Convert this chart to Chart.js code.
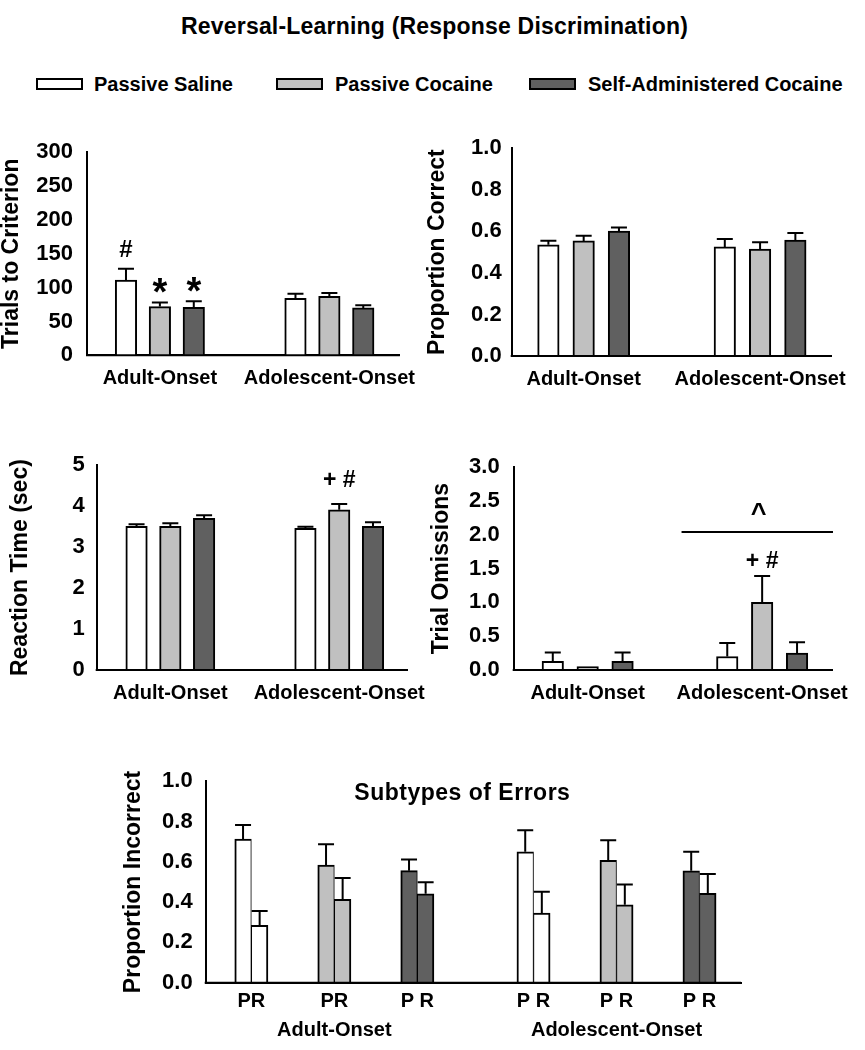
<!DOCTYPE html>
<html><head><meta charset="utf-8">
<script src="https://cdn.jsdelivr.net/npm/chart.js@4.4.1/dist/chart.umd.min.js"></script>
<style>
html,body{margin:0;padding:0;background:#fff;}
body{width:865px;height:1050px;position:relative;overflow:hidden;font-family:'Liberation Sans',Arial,sans-serif;font-weight:bold;color:#000;}
canvas{position:absolute;}
#title{position:absolute;left:0;width:869px;top:14.5px;text-align:center;font-size:23px;line-height:23px;letter-spacing:0.2px;white-space:nowrap;}
.lbox{position:absolute;top:78px;width:47px;height:12px;box-sizing:border-box;border:2px solid #000;}
.ltxt{position:absolute;top:74px;font-size:20px;line-height:20px;white-space:nowrap;}
</style></head><body>
<div id="title">Reversal-Learning (Response Discrimination)</div>
<div id="legend"></div>
<canvas id="c1" width="430" height="280" style="left:0px;top:125px"></canvas>
<canvas id="c2" width="440" height="280" style="left:425px;top:125px"></canvas>
<canvas id="c3" width="440" height="275" style="left:0px;top:440px"></canvas>
<canvas id="c4" width="440" height="275" style="left:425px;top:440px"></canvas>
<canvas id="c5" width="700" height="295" style="left:100px;top:755px"></canvas>
<script>
// ---------------- DATA ----------------
const groupLabels = ['Adult-Onset', 'Adolescent-Onset'];
const seriesNames = ['Passive Saline', 'Passive Cocaine', 'Self-Administered Cocaine'];

// Trials to criterion [Adult, Adolescent]
const trialsSaline = [111, 84];      const trialsSalineSem = [17, 7];
const trialsCocaine = [72, 87];      const trialsCocaineSem = [6, 5];
const trialsSelfAdmin = [71, 70];    const trialsSelfAdminSem = [9, 4];

// Proportion correct
const correctSaline = [0.535, 0.525];   const correctSalineSem = [0.02, 0.038];
const correctCocaine = [0.554, 0.514];  const correctCocaineSem = [0.025, 0.033];
const correctSelfAdmin = [0.601, 0.558];const correctSelfAdminSem = [0.017, 0.034];

// Reaction time (sec)
const rtSaline = [3.51, 3.46];     const rtSalineSem = [0.05, 0.04];
const rtCocaine = [3.51, 3.91];    const rtCocaineSem = [0.07, 0.14];
const rtSelfAdmin = [3.70, 3.51];  const rtSelfAdminSem = [0.08, 0.10];

// Trial omissions
const omitSaline = [0.13, 0.20];   const omitSalineSem = [0.13, 0.20];
const omitCocaine = [0.05, 1.00];  const omitCocaineSem = [0, 0.39];
const omitSelfAdmin = [0.13, 0.25];const omitSelfAdminSem = [0.13, 0.16];

// Subtypes of errors: P (perseverative) and R (regressive), [Adult, Adolescent]
const salineP = [0.713, 0.650];    const salinePSem = [0.070, 0.106];
const salineR = [0.285, 0.345];    const salineRSem = [0.071, 0.106];
const cocaineP = [0.584, 0.607];   const cocainePSem = [0.103, 0.100];
const cocaineR = [0.414, 0.387];   const cocaineRSem = [0.106, 0.100];
const selfAdminP = [0.556, 0.555]; const selfAdminPSem = [0.055, 0.095];
const selfAdminR = [0.441, 0.444]; const selfAdminRSem = [0.058, 0.096];
const pairLabels = ['PR', 'PR', 'P R', 'P R', 'P R', 'P R'];

// ---------------- STYLE ----------------
const FONT = "'Liberation Sans', Arial, sans-serif";
const fills = ['#ffffff', '#c0c0c0', '#606060'];
Chart.defaults.font.family = FONT;
Chart.defaults.font.weight = 'bold';
Chart.defaults.color = '#000';

// legend (HTML)
const legendBoxLeft = [36, 276, 529];
const legendTextLeft = [94, 335, 588];
const legend = document.getElementById('legend');
seriesNames.forEach((n, i) => {
  const b = document.createElement('div');
  b.className = 'lbox'; b.style.left = legendBoxLeft[i] + 'px'; b.style.background = fills[i];
  const t = document.createElement('div');
  t.className = 'ltxt'; t.style.left = legendTextLeft[i] + 'px'; t.textContent = n;
  legend.appendChild(b); legend.appendChild(t);
});

// error bars + baseline redraw
function errorBarPlugin(capW) {
  return {
    id: 'errorBars',
    afterDatasetsDraw(chart) {
      const ctx = chart.ctx, ys = chart.scales.y;
      ctx.save();
      ctx.strokeStyle = '#000'; ctx.lineWidth = 2; ctx.lineCap = 'butt';
      chart.data.datasets.forEach((ds, di) => {
        const meta = chart.getDatasetMeta(di);
        meta.data.forEach((bar, i) => {
          const e = ds.sem[i];
          if (!e) return;
          const top = ys.getPixelForValue(ds.data[i].y + e);
          ctx.beginPath();
          ctx.moveTo(bar.x, bar.y); ctx.lineTo(bar.x, top);
          ctx.moveTo(bar.x - capW / 2, top); ctx.lineTo(bar.x + capW / 2, top);
          ctx.stroke();
        });
      });
      const a = chart.chartArea;
      ctx.beginPath(); ctx.moveTo(a.left - 1, a.bottom); ctx.lineTo(a.right, a.bottom); ctx.stroke();
      ctx.restore();
    }
  };
}

// significance marks / titles
function marksPlugin(items) {
  return {
    id: 'marks',
    afterDatasetsDraw(chart) {
      const ctx = chart.ctx, xs = chart.scales.x, ys = chart.scales.y, a = chart.chartArea;
      ctx.save();
      ctx.fillStyle = '#000'; ctx.strokeStyle = '#000';
      ctx.textAlign = 'center'; ctx.textBaseline = 'alphabetic';
      items.forEach(m => {
        ctx.font = `bold ${m.size}px ${FONT}`;
        ctx.letterSpacing = m.spacing || '0px';
        if (m.type === 'bar') {
          const ds = chart.data.datasets[m.series];
          const bar = chart.getDatasetMeta(m.series).data[m.index];
          const top = ys.getPixelForValue(ds.data[m.index].y + ds.sem[m.index]);
          ctx.fillText(m.text, bar.x + (m.dx || 0), top + m.dy);
        } else if (m.type === 'bracket') {
          const y = ys.getPixelForValue(m.y);
          ctx.lineWidth = 2;
          ctx.beginPath(); ctx.moveTo(xs.getPixelForValue(m.x1), y); ctx.lineTo(xs.getPixelForValue(m.x2), y); ctx.stroke();
          ctx.fillText(m.text, xs.getPixelForValue(m.xText), y + m.dy);
        } else if (m.type === 'title') {
          ctx.fillText(m.text, (a.left + a.right) / 2 + m.dx, a.top + m.dy);
        }
      });
      ctx.restore();
    }
  };
}

function axisCommon(o) {
  return {
    x: {
      type: 'linear', min: o.xMin, max: o.xMax, offset: false,
      grid: { display: false, drawTicks: false },
      border: { display: true, color: '#000', width: 2 },
      afterBuildTicks: ax => { ax.ticks = o.tickValues.map(v => ({ value: v })); },
      ticks: { autoSkip: false, maxRotation: 0, minRotation: 0, padding: o.xPad,
               font: { size: 20, weight: 'bold', lineHeight: o.xLine || 1.2 },
               callback: (v, i) => o.tickLabels[i] },
      afterFit: ax => { ax.height = o.xAxisH; }
    },
    y: {
      min: 0, max: o.yMax,
      grid: { display: false, drawTicks: false },
      border: { display: true, color: '#000', width: 2 },
      ticks: { stepSize: o.yStep, padding: o.yPad, font: { size: 22, weight: 'bold' },
               callback: v => Number(v).toFixed(o.dec) },
      title: { display: true, text: o.yTitle, color: '#000',
               font: { size: 23, weight: 'bold', lineHeight: 1 },
               padding: { top: o.titlePad, bottom: 0 } },
      afterFit: ax => { ax.width = o.yAxisW; }
    }
  };
}

function groupPanel(id, o) {
  const datasets = o.series.map((ser, s) => ({
    label: seriesNames[s],
    data: ser[0].map((v, g) => ({ x: g * 5 + s, y: v })),
    sem: ser[1],
    backgroundColor: fills[s], borderColor: '#000', borderWidth: 2,
    borderSkipped: 'start', barThickness: 21.5, grouped: false
  }));
  return new Chart(document.getElementById(id), {
    type: 'bar',
    data: { datasets },
    options: {
      responsive: false, animation: false, events: [],
      layout: { padding: { left: 0, top: o.padTop, right: o.padRight, bottom: 0 } },
      plugins: { legend: { display: false }, tooltip: { enabled: false } },
      scales: axisCommon(Object.assign({ tickValues: [1, 6], tickLabels: groupLabels, xPad: 11 }, o))
    },
    plugins: [errorBarPlugin(16), marksPlugin(o.marks || [])]
  });
}

groupPanel('c1', {
  series: [[trialsSaline, trialsSalineSem], [trialsCocaine, trialsCocaineSem], [trialsSelfAdmin, trialsSelfAdminSem]],
  yMax: 300, yStep: 50, dec: 0, yTitle: 'Trials to Criterion',
  xMin: -1.15, xMax: 8.08, yAxisW: 87, padTop: 19.7, padRight: 18, xAxisH: 49.7, yPad: 14, titlePad: 0,
  marks: [
    { type: 'bar', series: 0, index: 0, text: '#', size: 24, dy: -12 },
    { type: 'bar', series: 1, index: 0, text: '*', size: 38, dy: 3 },
    { type: 'bar', series: 2, index: 0, text: '*', size: 38, dy: 3 }
  ]
});
groupPanel('c2', {
  series: [[correctSaline, correctSalineSem], [correctCocaine, correctCocaineSem], [correctSelfAdmin, correctSelfAdminSem]],
  yMax: 1, yStep: 0.2, dec: 1, yTitle: 'Proportion Correct',
  xMin: -1.04, xMax: 8.03, yAxisW: 86.7, padTop: 19.7, padRight: 33.3, xAxisH: 49, yPad: 10, titlePad: 1.5
});
groupPanel('c3', {
  series: [[rtSaline, rtSalineSem], [rtCocaine, rtCocaineSem], [rtSelfAdmin, rtSelfAdminSem]],
  yMax: 5, yStep: 1, dec: 0, yTitle: 'Reaction Time (sec)',
  xMin: -1.18, xMax: 8.01, yAxisW: 96.7, padTop: 17.6, padRight: 19.3, xAxisH: 45, yPad: 12, titlePad: 9,
  marks: [ { type: 'bar', series: 1, index: 1, text: '+ #', size: 23, dy: -17 } ]
});
groupPanel('c4', {
  series: [[omitSaline, omitSalineSem], [omitCocaine, omitCocaineSem], [omitSelfAdmin, omitSelfAdminSem]],
  yMax: 3, yStep: 0.5, dec: 1, yTitle: 'Trial Omissions',
  xMin: -1.12, xMax: 8.03, yAxisW: 88.7, padTop: 17.5, padRight: 28.3, xAxisH: 45, yPad: 14, titlePad: 5.5,
  marks: [
    { type: 'bar', series: 1, index: 1, text: '+ #', size: 23, dy: -8 },
    { type: 'bracket', x1: 3.69, x2: 8.03, y: 2.04, xText: 5.9, text: '^', size: 27, dy: -10 }
  ]
});

// Subtypes of errors panel
const errSeries = [[salineP, salinePSem, salineR, salineRSem],
                   [cocaineP, cocainePSem, cocaineR, cocaineRSem],
                   [selfAdminP, selfAdminPSem, selfAdminR, selfAdminRSem]];
const pairPos = (s, g) => s * 5 + g * 17;
const errDatasets = errSeries.map((ser, s) => {
  const data = [], sem = [];
  [0, 1].forEach(g => {
    data.push({ x: pairPos(s, g), y: ser[0][g] }); sem.push(ser[1][g]);
    data.push({ x: pairPos(s, g) + 1, y: ser[2][g] }); sem.push(ser[3][g]);
  });
  return {
    label: seriesNames[s], data, sem,
    backgroundColor: fills[s], borderColor: '#000',
    borderWidth: c => (c.dataIndex % 2 === 0 ? { left: 2, top: 2, right: 1, bottom: 0 } : { left: 1, top: 2, right: 2, bottom: 0 }),
    borderSkipped: 'start', barThickness: 16.6, grouped: false
  };
});
const pairTicks = [], pairTickLabels = [];
[0, 1].forEach(g => [0, 1, 2].forEach(s => {
  pairTicks.push(pairPos(s, g) + 0.5);
  const lbl = pairLabels[g * 3 + s];
  pairTickLabels.push(s === 1 ? [lbl, groupLabels[g]] : lbl);
}));
const order = pairTicks.map((v, i) => i).sort((a, b) => pairTicks[a] - pairTicks[b]);
new Chart(document.getElementById('c5'), {
  type: 'bar',
  data: { datasets: errDatasets },
  options: {
    responsive: false, animation: false, events: [],
    layout: { padding: { left: 0, top: 16, right: 59, bottom: 0 } },
    plugins: { legend: { display: false }, tooltip: { enabled: false } },
    scales: axisCommon({
      xMin: -2.25, xMax: 30.0, tickValues: order.map(i => pairTicks[i]), tickLabels: order.map(i => pairTickLabels[i]),
      xPad: 4, xLine: 1.45, xAxisH: 67.3,
      yMax: 1, yStep: 0.2, dec: 1, yTitle: 'Proportion Incorrect', yAxisW: 105.7, yPad: 13, titlePad: 22.5
    })
  },
  plugins: [errorBarPlugin(16), marksPlugin([
    { type: 'title', text: 'Subtypes of Errors', size: 23, dx: -11, dy: 18.6, spacing: '0.5px' }
  ])]
});
</script>
</body></html>
